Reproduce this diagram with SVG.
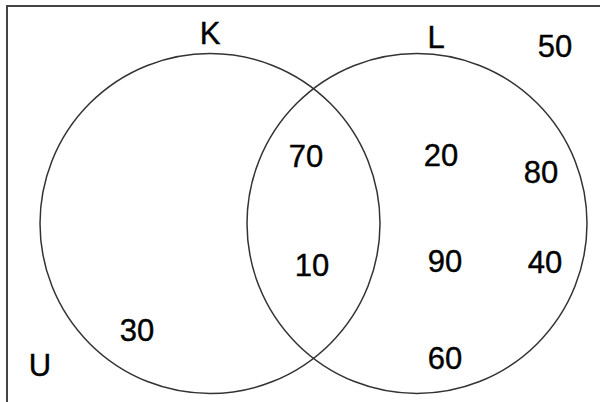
<svg xmlns="http://www.w3.org/2000/svg" width="600" height="402" viewBox="0 0 600 402">
<style>
.c{fill:none;stroke:#333;stroke-width:1.5}
.t{font-family:"Liberation Sans",Arial,sans-serif;font-size:31px;fill:#000;stroke:#000;stroke-width:0.4;text-anchor:middle}
</style>
<rect width="600" height="402" fill="#fff"/>
<path d="M7,402 V6 H600" fill="none" stroke="#444" stroke-width="2"/>
<g id="K">
<circle class="c" cx="210" cy="223.5" r="170"/>
<text class="t" x="210" y="44">K</text>
</g>
<g id="L">
<circle class="c" cx="417" cy="223.5" r="170"/>
<text class="t" x="436" y="48">L</text>
</g>
<g id="U">
<text class="t" x="40" y="376">U</text>
</g>
<g id="values">
<text class="t" x="555" y="57">50</text>
<text class="t" x="306" y="167">70</text>
<text class="t" x="441" y="166">20</text>
<text class="t" x="541" y="183">80</text>
<text class="t" x="312" y="276">10</text>
<text class="t" x="445" y="272">90</text>
<text class="t" x="545" y="273">40</text>
<text class="t" x="445" y="369">60</text>
<text class="t" x="137" y="341">30</text>
</g>
</svg>
